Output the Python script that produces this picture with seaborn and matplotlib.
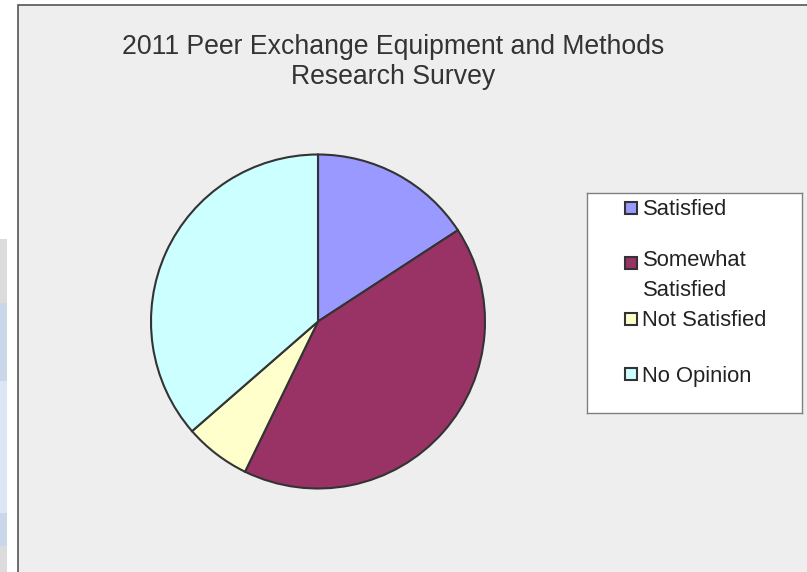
import matplotlib
matplotlib.use("Agg")
import matplotlib.pyplot as plt
from matplotlib.patches import Rectangle
import seaborn as sns

# Données du sondage (en %)
categories = ["Satisfied", "Somewhat\nSatisfied", "Not Satisfied", "No Opinion"]
values = [15.8, 41.4, 6.4, 36.4]
colors = ["#9999FF", "#993366", "#FFFFCC", "#CCFFFF"]
title = "2011 Peer Exchange Equipment and Methods\nResearch Survey"

sns.set_theme(style="white")
plt.rcParams["font.family"] = ["Liberation Sans", "DejaVu Sans"]

W, H = 807, 572
fig = plt.figure(figsize=(W / 100, H / 100), dpi=100)
fig.patch.set_facecolor("white")

# restes de la feuille de calcul a gauche
for top, bot, col in [(239, 303, "#DCDCDC"), (303, 381, "#C9D7E8"), (381, 513, "#DCE6F5"),
                      (513, 546, "#C9D7E8"), (546, 572, "#DCDCDC")]:
    fig.patches.append(Rectangle((0, 1 - bot / H), 7 / W, (bot - top) / H, zorder=-2,
                                 transform=fig.transFigure, facecolor=col, edgecolor="none"))

# zone du graphique (fond gris, bord gauche et haut)
fig.patches.append(Rectangle((17.5 / W, -0.1), 1.2, 1.1 - 5 / H, transform=fig.transFigure,
                             facecolor="#EEEEEE", edgecolor="#555555", linewidth=1.2, zorder=-2))

# camembert
cx, cy, r, pad = 318, 321.5, 167, 8
ax = fig.add_axes([(cx - r - pad) / W, 1 - (cy + r + pad) / H, 2 * (r + pad) / W, 2 * (r + pad) / H])
ax.patch.set_alpha(0)
ax.pie(values, colors=colors, startangle=90, counterclock=False, radius=1,
       wedgeprops=dict(edgecolor="#333333", linewidth=1.5))
lim = (r + pad) / r
ax.set_xlim(-lim, lim)
ax.set_ylim(-lim, lim)
ax.axis("off")

# titre (va="baseline" se cale sur la derniere ligne)
fig.text(393.5 / W, 1 - 84.5 / H, title, ha="center", va="baseline", fontsize=19.2,
         color="#333333", linespacing=1.2)

# legende (style Excel)
lx0, lx1, ly0, ly1 = 587, 802, 193, 413
lax = fig.add_axes([lx0 / W, 1 - ly1 / H, (lx1 - lx0) / W, (ly1 - ly0) / H])
lax.set_xlim(lx0, lx1)
lax.set_ylim(ly1, ly0)
lax.set_facecolor("white")
lax.set_xticks([])
lax.set_yticks([])
for s in lax.spines.values():
    s.set_color("#808080")
    s.set_linewidth(1.0)
for i, (lab, col) in enumerate(zip(categories, colors)):
    base = 215 + i * 55.6
    lax.add_patch(Rectangle((625, base - 13.3), 12, 12, facecolor=col,
                            edgecolor="#333333", linewidth=1.5))
    lax.text(642.5, base + 25 * lab.count("\n"), lab, va="baseline", ha="left",
             fontsize=15.8, color="#222222", linespacing=1.55)

fig.savefig("out.png", dpi=100)
